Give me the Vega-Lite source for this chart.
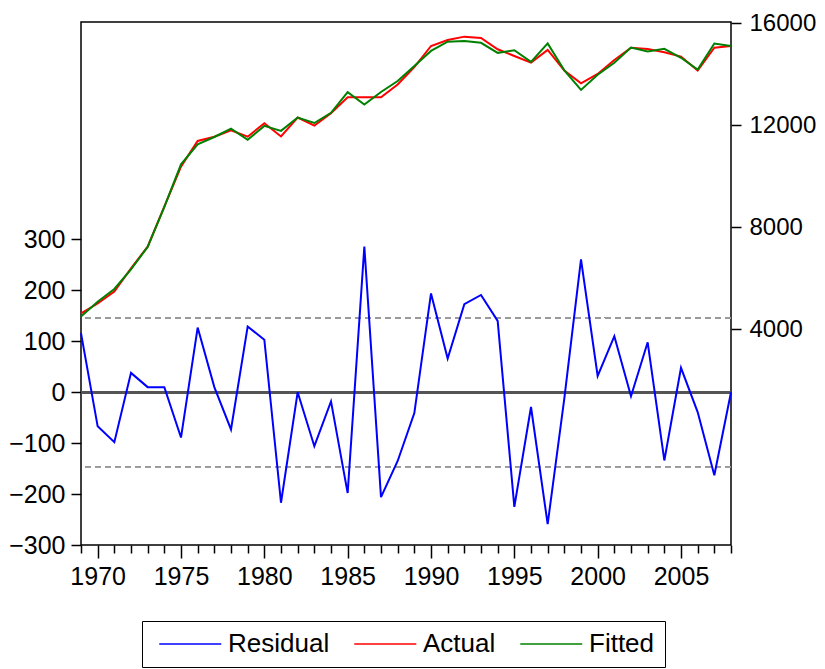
{
  "$schema": "https://vega.github.io/schema/vega-lite/v6.json",
  "width": 650,
  "height": 523,
  "autosize": "none",
  "padding": {"left": 81, "top": 22, "right": 94, "bottom": 124},
  "background": "white",
  "config": {
    "view": {"stroke": "black", "strokeWidth": 1.5},
    "font": "Liberation Sans",
    "axis": {"labelFont": "Liberation Sans", "labelColor": "black", "tickColor": "black", "domain": false, "grid": false, "title": null, "labelFontSize": 24, "tickWidth": 1.5}
  },
  "data": {
    "values": [
      {"year": 1969, "series": "Residual", "value": 116},
      {"year": 1970, "series": "Residual", "value": -67},
      {"year": 1971, "series": "Residual", "value": -98},
      {"year": 1972, "series": "Residual", "value": 38},
      {"year": 1973, "series": "Residual", "value": 10},
      {"year": 1974, "series": "Residual", "value": 10},
      {"year": 1975, "series": "Residual", "value": -89},
      {"year": 1976, "series": "Residual", "value": 127},
      {"year": 1977, "series": "Residual", "value": 10},
      {"year": 1978, "series": "Residual", "value": -73},
      {"year": 1979, "series": "Residual", "value": 129},
      {"year": 1980, "series": "Residual", "value": 103},
      {"year": 1981, "series": "Residual", "value": -217},
      {"year": 1982, "series": "Residual", "value": 0},
      {"year": 1983, "series": "Residual", "value": -106},
      {"year": 1984, "series": "Residual", "value": -18},
      {"year": 1985, "series": "Residual", "value": -198},
      {"year": 1986, "series": "Residual", "value": 286},
      {"year": 1987, "series": "Residual", "value": -206},
      {"year": 1988, "series": "Residual", "value": -135},
      {"year": 1989, "series": "Residual", "value": -41},
      {"year": 1990, "series": "Residual", "value": 194},
      {"year": 1991, "series": "Residual", "value": 66},
      {"year": 1992, "series": "Residual", "value": 173},
      {"year": 1993, "series": "Residual", "value": 191},
      {"year": 1994, "series": "Residual", "value": 140},
      {"year": 1995, "series": "Residual", "value": -225},
      {"year": 1996, "series": "Residual", "value": -29},
      {"year": 1997, "series": "Residual", "value": -259},
      {"year": 1998, "series": "Residual", "value": -12},
      {"year": 1999, "series": "Residual", "value": 261},
      {"year": 2000, "series": "Residual", "value": 32},
      {"year": 2001, "series": "Residual", "value": 110},
      {"year": 2002, "series": "Residual", "value": -8},
      {"year": 2003, "series": "Residual", "value": 98},
      {"year": 2004, "series": "Residual", "value": -134},
      {"year": 2005, "series": "Residual", "value": 48},
      {"year": 2006, "series": "Residual", "value": -39},
      {"year": 2007, "series": "Residual", "value": -163},
      {"year": 2008, "series": "Residual", "value": 0},
      {"year": 1969, "series": "Actual", "value": 4620},
      {"year": 1970, "series": "Actual", "value": 5010},
      {"year": 1971, "series": "Actual", "value": 5480},
      {"year": 1972, "series": "Actual", "value": 6390},
      {"year": 1973, "series": "Actual", "value": 7240},
      {"year": 1974, "series": "Actual", "value": 8810},
      {"year": 1975, "series": "Actual", "value": 10380},
      {"year": 1976, "series": "Actual", "value": 11384},
      {"year": 1977, "series": "Actual", "value": 11550},
      {"year": 1978, "series": "Actual", "value": 11800},
      {"year": 1979, "series": "Actual", "value": 11553},
      {"year": 1980, "series": "Actual", "value": 12078},
      {"year": 1981, "series": "Actual", "value": 11560},
      {"year": 1982, "series": "Actual", "value": 12302},
      {"year": 1983, "series": "Actual", "value": 11985},
      {"year": 1984, "series": "Actual", "value": 12474},
      {"year": 1985, "series": "Actual", "value": 13098},
      {"year": 1986, "series": "Actual", "value": 13098},
      {"year": 1987, "series": "Actual", "value": 13098},
      {"year": 1988, "series": "Actual", "value": 13600},
      {"year": 1989, "series": "Actual", "value": 14280},
      {"year": 1990, "series": "Actual", "value": 15110},
      {"year": 1991, "series": "Actual", "value": 15345},
      {"year": 1992, "series": "Actual", "value": 15476},
      {"year": 1993, "series": "Actual", "value": 15424},
      {"year": 1994, "series": "Actual", "value": 14980},
      {"year": 1995, "series": "Actual", "value": 14718},
      {"year": 1996, "series": "Actual", "value": 14456},
      {"year": 1997, "series": "Actual", "value": 14953},
      {"year": 1998, "series": "Actual", "value": 14143},
      {"year": 1999, "series": "Actual", "value": 13647},
      {"year": 2000, "series": "Actual", "value": 14012},
      {"year": 2001, "series": "Actual", "value": 14560},
      {"year": 2002, "series": "Actual", "value": 15043},
      {"year": 2003, "series": "Actual", "value": 14992},
      {"year": 2004, "series": "Actual", "value": 14862},
      {"year": 2005, "series": "Actual", "value": 14694},
      {"year": 2006, "series": "Actual", "value": 14143},
      {"year": 2007, "series": "Actual", "value": 15043},
      {"year": 2008, "series": "Actual", "value": 15110},
      {"year": 1969, "series": "Fitted", "value": 4500},
      {"year": 1970, "series": "Fitted", "value": 5080},
      {"year": 1971, "series": "Fitted", "value": 5580},
      {"year": 1972, "series": "Fitted", "value": 6350},
      {"year": 1973, "series": "Fitted", "value": 7230},
      {"year": 1974, "series": "Fitted", "value": 8800},
      {"year": 1975, "series": "Fitted", "value": 10470},
      {"year": 1976, "series": "Fitted", "value": 11254},
      {"year": 1977, "series": "Fitted", "value": 11540},
      {"year": 1978, "series": "Fitted", "value": 11870},
      {"year": 1979, "series": "Fitted", "value": 11430},
      {"year": 1980, "series": "Fitted", "value": 11975},
      {"year": 1981, "series": "Fitted", "value": 11780},
      {"year": 1982, "series": "Fitted", "value": 12302},
      {"year": 1983, "series": "Fitted", "value": 12090},
      {"year": 1984, "series": "Fitted", "value": 12490},
      {"year": 1985, "series": "Fitted", "value": 13300},
      {"year": 1986, "series": "Fitted", "value": 12812},
      {"year": 1987, "series": "Fitted", "value": 13304},
      {"year": 1988, "series": "Fitted", "value": 13735},
      {"year": 1989, "series": "Fitted", "value": 14320},
      {"year": 1990, "series": "Fitted", "value": 14916},
      {"year": 1991, "series": "Fitted", "value": 15279},
      {"year": 1992, "series": "Fitted", "value": 15303},
      {"year": 1993, "series": "Fitted", "value": 15233},
      {"year": 1994, "series": "Fitted", "value": 14840},
      {"year": 1995, "series": "Fitted", "value": 14943},
      {"year": 1996, "series": "Fitted", "value": 14485},
      {"year": 1997, "series": "Fitted", "value": 15212},
      {"year": 1998, "series": "Fitted", "value": 14155},
      {"year": 1999, "series": "Fitted", "value": 13386},
      {"year": 2000, "series": "Fitted", "value": 13980},
      {"year": 2001, "series": "Fitted", "value": 14450},
      {"year": 2002, "series": "Fitted", "value": 15051},
      {"year": 2003, "series": "Fitted", "value": 14894},
      {"year": 2004, "series": "Fitted", "value": 14996},
      {"year": 2005, "series": "Fitted", "value": 14646},
      {"year": 2006, "series": "Fitted", "value": 14182},
      {"year": 2007, "series": "Fitted", "value": 15206},
      {"year": 2008, "series": "Fitted", "value": 15110}
    ]
  },
  "layer": [
    {
      "mark": {"type": "rule", "color": "#555555", "strokeWidth": 2},
      "encoding": {"y": {"datum": 0, "type": "quantitative", "scale": {"domain": [-300, 727], "nice": false, "zero": false}, "axis": null}}
    },
    {
      "mark": {"type": "rule", "color": "#999999", "strokeWidth": 1, "strokeDash": [6, 4]},
      "encoding": {"y": {"datum": 146, "type": "quantitative", "scale": {"domain": [-300, 727], "nice": false, "zero": false}, "axis": null}}
    },
    {
      "mark": {"type": "rule", "color": "#999999", "strokeWidth": 1, "strokeDash": [6, 4]},
      "encoding": {"y": {"datum": -146, "type": "quantitative", "scale": {"domain": [-300, 727], "nice": false, "zero": false}, "axis": null}}
    },
    {
      "mark": {"type": "line", "color": "#0000FF", "strokeWidth": 2},
      "transform": [{"filter": "datum.series === 'Residual'"}],
      "encoding": {
        "x": {
          "field": "year", "type": "quantitative",
          "scale": {"domain": [1969, 2008], "nice": false, "zero": false},
          "axis": {
            "values": [1969,1970,1971,1972,1973,1974,1975,1976,1977,1978,1979,1980,1981,1982,1983,1984,1985,1986,1987,1988,1989,1990,1991,1992,1993,1994,1995,1996,1997,1998,1999,2000,2001,2002,2003,2004,2005,2006,2007,2008],
            "labelExpr": "datum.value % 5 === 0 ? datum.value : ''",
            "tickSize": {"condition": {"test": "datum.value % 5 === 0", "value": 13}, "value": 8},
            "labelPadding": 6, "labelFontSize": 25, "labelOverlap": false, "labelFlush": false
          }
        },
        "y": {
          "field": "value", "type": "quantitative",
          "scale": {"domain": [-300, 727], "nice": false, "zero": false},
          "axis": {"orient": "left", "values": [-300, -200, -100, 0, 100, 200, 300], "format": "d", "tickSize": 10, "labelPadding": 6, "labelFontSize": 25}
        },
        "color": {
          "field": "series", "type": "nominal",
          "scale": {"domain": ["Residual", "Actual", "Fitted"], "range": ["#0000FF", "#FF0000", "#008000"]},
          "legend": {
            "title": null, "orient": "none", "legendX": 61, "legendY": 599, "direction": "horizontal",
            "strokeColor": "black", "padding": 10, "symbolType": "M-1.15,0H11.25", "symbolStrokeWidth": 1.5,
            "symbolSize": 100, "labelFontSize": 26, "labelOffset": 50, "columnPadding": 17, "labelLimit": 0,
            "labelFont": "Liberation Sans", "labelColor": "black"
          }
        }
      }
    },
    {
      "mark": {"type": "line", "strokeWidth": 2},
      "transform": [{"filter": "datum.series !== 'Residual'"}],
      "encoding": {
        "x": {
          "field": "year", "type": "quantitative",
          "scale": {"domain": [1969, 2008], "nice": false, "zero": false},
          "axis": {
            "values": [1969,1970,1971,1972,1973,1974,1975,1976,1977,1978,1979,1980,1981,1982,1983,1984,1985,1986,1987,1988,1989,1990,1991,1992,1993,1994,1995,1996,1997,1998,1999,2000,2001,2002,2003,2004,2005,2006,2007,2008],
            "labelExpr": "datum.value % 5 === 0 ? datum.value : ''",
            "tickSize": {"condition": {"test": "datum.value % 5 === 0", "value": 13}, "value": 8},
            "labelPadding": 6, "labelFontSize": 25, "labelOverlap": false, "labelFlush": false
          }
        },
        "y": {
          "field": "value", "type": "quantitative",
          "scale": {"domain": [-4460, 16050], "nice": false, "zero": false},
          "axis": {"orient": "right", "values": [4000, 8000, 12000, 16000], "format": "d", "tickSize": 10, "labelPadding": 8, "labelAlign": "left", "labelBound": false, "labelFlush": false, "labelFontSize": 24}
        },
        "color": {
          "field": "series", "type": "nominal",
          "scale": {"domain": ["Residual", "Actual", "Fitted"], "range": ["#0000FF", "#FF0000", "#008000"]},
          "legend": {
            "title": null, "orient": "none", "legendX": 61, "legendY": 599, "direction": "horizontal",
            "strokeColor": "black", "padding": 10, "symbolType": "M-1.15,0H11.25", "symbolStrokeWidth": 1.5,
            "symbolSize": 100, "labelFontSize": 26, "labelOffset": 50, "columnPadding": 17, "labelLimit": 0,
            "labelFont": "Liberation Sans", "labelColor": "black"
          }
        }
      }
    }
  ],
  "resolve": {"scale": {"y": "independent"}}
}
